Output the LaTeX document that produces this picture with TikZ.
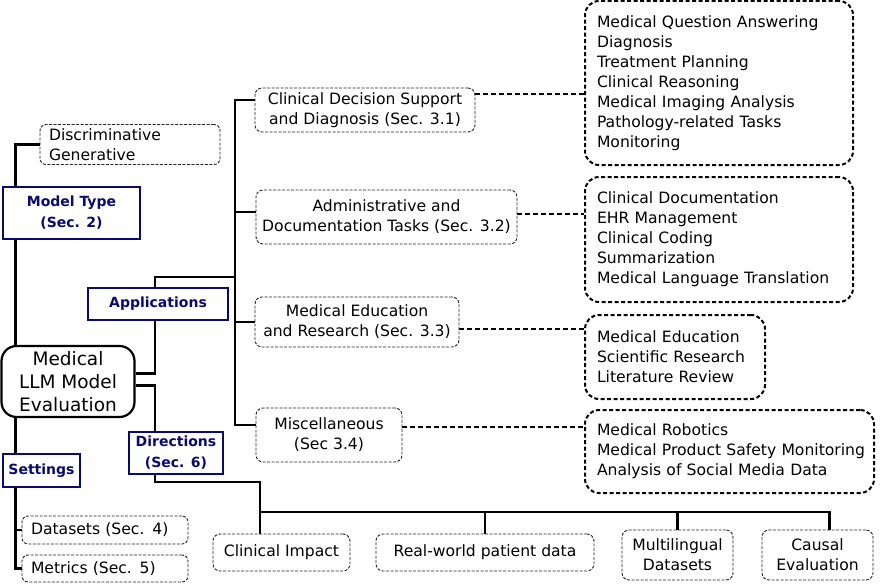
\documentclass[tikz,border=0pt]{standalone}
\usepackage{fontspec}
\setmainfont{DejaVu Sans}
\usepackage{xcolor}
\usepackage{tikz}
\usetikzlibrary{calc}
\usetikzlibrary{positioning}

\definecolor{catblue}{RGB}{10,10,110}

\begin{document}
\begin{tikzpicture}
[
	x = 1pt, y = -1pt,
	Root/.style		= {draw, line width = 2.2pt, rounded corners = 15pt, fill = white, align = center, font = \fontsize{18.5}{23}\selectfont, inner sep = 0pt},
	Category/.style	= {draw = catblue, line width = 1.8pt, fill = white, text = catblue, align = center, font = \bfseries\fontsize{14}{21}\selectfont, inner sep = 0pt},
	Topic/.style	= {draw = black!85, line width = 0.9pt, dash pattern = on 3pt off 1.5pt, rounded corners = 7pt, fill = white, align = center, font = \fontsize{15.6}{20}\selectfont, inner sep = 0pt},
	Leaf/.style		= {Topic, align = left, inner xsep = 9pt, rounded corners = 6pt},
	List/.style		= {draw, line width = 2pt, dash pattern = on 4pt off 2.5pt, rounded corners = 14pt, align = left, font = \fontsize{15.6}{20}\selectfont, inner xsep = 12pt, inner ysep = 0pt},
	Link/.style		= {draw, line width = 2.8pt},
	DashLink/.style	= {draw, line width = 2.4pt, dash pattern = on 5pt off 3pt},
]

	\useasboundingbox (0,0) rectangle (883,586);

	\node (root) [Root, minimum width = 133pt, minimum height = 71pt] at (68,381.5) {Medical \\ LLM Model \\ Evaluation};
	%
	\node (disc)     [Leaf, text width = 162pt, minimum height = 40pt] at (130,144.5) {Discriminative \\ Generative};
	\node (datasets) [Leaf, text width = 148pt, minimum height = 28pt] at (105,530) {Datasets (Sec. 4)};
	\node (metrics)  [Leaf, text width = 148pt, minimum height = 27pt] at (105,568.5) {Metrics (Sec. 5)};
	%
	\node (cds)   [Topic, minimum width = 220pt, minimum height = 44pt] at (365,110) {Clinical Decision Support \\ and Diagnosis (Sec. 3.1)};
	\node (admin) [Topic, minimum width = 261pt, minimum height = 54pt] at (386.5,217) {Administrative and \\ Documentation Tasks (Sec. 3.2)};
	\node (edu)   [Topic, minimum width = 204pt, minimum height = 50pt] at (357,322) {Medical Education \\ and Research (Sec. 3.3)};
	\node (misc)  [Topic, minimum width = 146pt, minimum height = 54pt] at (329,435) {Miscellaneous \\ (Sec 3.4)};
	%
	\node (list1) [List, text width = 244pt, minimum height = 164pt] at (719,83) {Medical Question Answering \\ Diagnosis \\ Treatment Planning \\ Clinical Reasoning \\ Medical Imaging Analysis \\ Pathology-related Tasks \\ Monitoring};
	\node (list2) [List, text width = 244pt, minimum height = 125pt] at (719,239.5) {Clinical Documentation \\ EHR Management \\ Clinical Coding \\ Summarization \\ Medical Language Translation};
	\node (list3) [List, text width = 156pt, minimum height = 84pt] at (675,357) {Medical Education \\ Scientific Research \\ Literature Review};
	\node (list4) [List, text width = 265pt, minimum height = 83pt] at (729.5,451.5) {Medical Robotics \\ \mbox{Medical Product Safety Monitoring} \\ Analysis of Social Media Data};
	%
	\node (impact)    [Topic, minimum width = 137pt, minimum height = 37pt] at (281.5,552.5) {Clinical Impact};
	\node (realworld) [Topic, minimum width = 218pt, minimum height = 37pt] at (485,552.5) {Real-world patient data};
	\node (multi)     [Topic, minimum width = 111pt, minimum height = 50pt] at (677.5,555) {Multilingual \\ Datasets};
	\node (causal)    [Topic, minimum width = 111pt, minimum height = 50pt] at (817.5,555) {Causal \\ Evaluation};

	% auxiliary coordinates for the connectors
	\coordinate (appA) at (155,277);
	\coordinate (appB) at (235,277);
	\coordinate (dirA) at (155,482);
	\coordinate (busL) at (260,512);

	\draw [Link] (disc.west) -| ([xshift = 15pt]root.north west);
	\draw [Link] ([xshift = 15pt]root.south west) |- (metrics.west);
	\draw [Link] (datasets.west) -- (datasets.west -| metrics.west) -- ++(-5,0);
	%
	\draw [Link] ([yshift = 8pt]root.east) -| (appA) -- (appB);
	\draw [Link] ([yshift = 10pt]cds.west) -| (appB) |- ([yshift = 10pt]misc.west);
	\draw [Link] ([yshift = 5pt]admin.west) -- ([yshift = 5pt]admin.west -| appB);
	\draw [Link] (edu.west) -- (edu.west -| appB);
	%
	\draw [Link] ([yshift = -4pt]root.east) -| (dirA) -| (impact.north -| busL);
	\draw [Link] (busL) -| ([xshift = 12pt]causal.north);
	\draw [Link] (realworld.north) -- (realworld.north |- busL);
	\draw [Link] (multi.north) -- (multi.north |- busL);

	% dashed connectors to the task lists
	\path ([yshift = 16pt]cds.east) coordinate (cdsOut);
	\path ([yshift = 3pt]admin.east) coordinate (adminOut);
	\path ([yshift = -7pt]edu.east) coordinate (eduOut);
	\path ([yshift = 8pt]misc.east) coordinate (miscOut);
	%
	\draw [DashLink] (cdsOut) -- (cdsOut -| list1.west);
	\draw [DashLink] (adminOut) -- (adminOut -| list2.west);
	\draw [DashLink] (eduOut) -- (eduOut -| list3.west);
	\draw [DashLink] (miscOut) -- (miscOut -| list4.west);

	% category labels sit on top of the lines
	\node (modeltype) [Category, minimum width = 137pt, minimum height = 52pt] at (71.5,213) {Model Type \\ (Sec. 2)};
	\node (apps)      [Category, minimum width = 140pt, minimum height = 32pt] at (158,304) {Applications};
	\node (dirs)      [Category, minimum width = 94pt, minimum height = 42pt] at (176,453) {Directions \\ (Sec. 6)};
	\node (settings)  [Category, minimum width = 77pt, minimum height = 33pt] at (41.5,470.5) {Settings};

\end{tikzpicture}
\end{document}
